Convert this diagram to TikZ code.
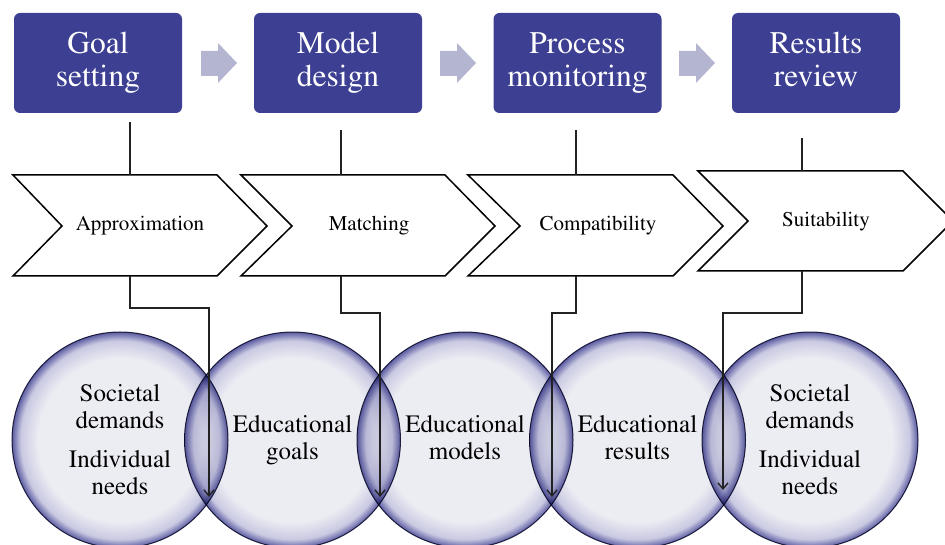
\documentclass[tikz,border=0pt]{standalone}
\usepackage[T1]{fontenc}
\usepackage{times}
\usetikzlibrary{arrows.meta}
\definecolor{boxblue}{HTML}{3D3F92}
\definecolor{arrowlav}{HTML}{B4B5D0}
\definecolor{cin}{HTML}{ECECF3}
\definecolor{cmid}{HTML}{C9C9E2}
\definecolor{cout}{HTML}{5C5CA2}
\definecolor{cline}{HTML}{2C2C4C}
\definecolor{conncol}{HTML}{222222}
\pgfdeclareradialshading{rim}{\pgfpoint{0bp}{0bp}}{color(0bp)=(cin); color(19bp)=(cin); color(23bp)=(cmid); color(25bp)=(cout); color(50bp)=(cout)}
\begin{document}
\begin{tikzpicture}[x=1pt,y=-1pt,
  topbox/.style={fill=boxblue, rounded corners=6pt, text=white, minimum width=168pt, minimum height=100pt, inner sep=0pt, align=center, font=\fontsize{31.5}{33}\selectfont},
  stepchev/.style={draw=black, fill=white, line width=1.5pt, line join=miter},
  chevtext/.style={inner sep=0pt, font=\fontsize{21}{24}\selectfont},
  circnode/.style={circle, minimum size=216pt, inner sep=0pt, shading=rim, draw=cline, line width=1pt, blend mode=multiply, align=center, font=\fontsize{25}{27}\selectfont},
  conn/.style={line width=1.4pt, draw=conncol},
  flow/.style={conn, -{Straight Barb[length=6pt,width=10pt]}},
  blockarrow/.style={fill=arrowlav}
]
\useasboundingbox (0,0) rectangle (945,545);
\clip (0,0) rectangle (945,545);

% circles
\node[circnode] (k1) at (120,440) {Societal\\demands\\[12pt]Individual\\needs};
\node[circnode] (k2) at (292.5,440) {Educational\\goals};
\node[circnode] (k3) at (465,440) {Educational\\models\vphantom{g}};
\node[circnode] (k4) at (637.5,440) {Educational\\results\vphantom{g}};
\node[circnode] (k5) at (810,440) {Societal\\demands\\[12pt]Individual\\needs};

% top boxes
\node[topbox] (b1) at (98,63) {Goal\\setting};
\node[topbox] (b2) at (338,63) {Model\\design};
\node[topbox] (b3) at (577.5,63) {Process\\monitoring};
\node[topbox] (b4) at (816,63) {Results\\review\vphantom{g}};

% block arrows between boxes
\foreach \ax in {201,440,679}{
  \fill[blockarrow] (\ax,51) -- (\ax+17,51) -- (\ax+17,43) -- (\ax+36,63) -- (\ax+17,83) -- (\ax+17,76) -- (\ax,76) -- cycle;
}

% chevrons
\draw[stepchev] (13,175) -- (217,175) -- (267,226) -- (217,276) -- (13,276) -- (62,226) -- cycle;
\draw[stepchev] (241,175) -- (445,175) -- (495,226) -- (445,276) -- (241,276) -- (292,226) -- cycle;
\draw[stepchev] (468,175) -- (673,175) -- (723,226) -- (673,276) -- (468,276) -- (520,226) -- cycle;
\draw[stepchev] (698,171) -- (903,171) -- (953,221) -- (903,271) -- (698,271) -- (748,221) -- cycle;
\node[chevtext] (c1) at (140,226) {Approximation};
\node[chevtext] (c2) at (369,226) {Matching};
\node[chevtext] (c3) at (598,226) {Compatibility};
\node[chevtext] (c4) at (826,222) {Suitability};

% connector anchor points
\coordinate (t1a) at (130,122); \coordinate (t1b) at (130,175);
\coordinate (t2a) at (341,130); \coordinate (t2b) at (341,175);
\coordinate (t3a) at (576,130); \coordinate (t3b) at (576,175);
\coordinate (t4a) at (802,138); \coordinate (t4b) at (802,171);
\coordinate (u1) at (130,276); \coordinate (v1) at (209,497);
\coordinate (u2) at (341,276); \coordinate (v2) at (380,497);
\coordinate (u3) at (576,276); \coordinate (v3) at (552,497);
\coordinate (u4) at (802,271); \coordinate (v4) at (723,490);

\draw[conn] (t1a) -- (t1b);
\draw[conn] (t2a) -- (t2b);
\draw[conn] (t3a) -- (t3b);
\draw[conn] (t4a) -- (t4b);

\draw[flow] (u1) -- (130,308) -| (v1);
\draw[flow] (u2) -- (341,313) -| (v2);
\draw[flow] (u3) -- (576,313) -| (v3);
\draw[flow] (u4) -- (802,313) -| (v4);
\end{tikzpicture}
\end{document}
